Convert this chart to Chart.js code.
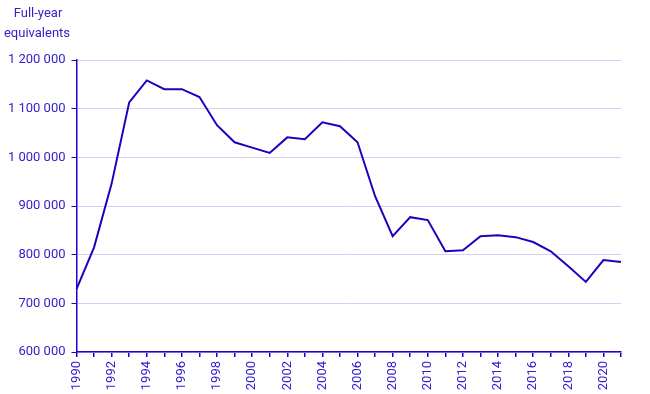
<!DOCTYPE html>
<html>
<head>
<meta charset="utf-8">
<script src="https://cdn.jsdelivr.net/npm/chart.js@4/dist/chart.umd.min.js"></script>
<style>
html,body{margin:0;padding:0;background:#fff;}
#wrap{width:650px;height:394px;position:relative;}
</style>
</head>
<body>
<div id="wrap"><canvas id="c" width="650" height="394"></canvas></div>
<script>
const years = [1990,1991,1992,1993,1994,1995,1996,1997,1998,1999,2000,2001,2002,2003,2004,2005,2006,2007,2008,2009,2010,2011,2012,2013,2014,2015,2016,2017,2018,2019,2020,2021];
const fullYearEquivalents = [729000,815000,946000,1113000,1158000,1140000,1140000,1124000,1066000,1031000,1020000,1009000,1041000,1037000,1072000,1064000,1031000,920000,838000,877000,871000,807000,809000,838000,840000,836000,826000,807000,776000,744000,789000,785000];
const yAxisTitle = ["Full-year", "equivalents"];
const yMin = 600000, yMax = 1200000, yStep = 100000;

const TEXT = '#3322cc';
const AXIS = '#2400cc';
const LINE = '#1e00bf';
const GRID = '#d4d0f4';
const FONT = 'Roboto, "Liberation Sans", Arial, sans-serif';

function fmt(v){ return String(v).replace(/\B(?=(\d{3})+(?!\d))/g, ' '); }

const titlePlugin = {
  id: 'ytitle',
  afterDraw(chart){
    const ctx = chart.ctx;
    ctx.save();
    ctx.fillStyle = TEXT;
    ctx.font = '13px ' + FONT;
    ctx.textAlign = 'center';
    ctx.textBaseline = 'middle';
    ctx.fillText(yAxisTitle[0], 38, 14);
    ctx.fillText(yAxisTitle[1], 37, 34);
    ctx.restore();
  }
};

new Chart(document.getElementById('c'), {
  type: 'line',
  data: {
    labels: years.map(String),
    datasets: [{
      data: fullYearEquivalents,
      borderColor: LINE,
      borderWidth: 2,
      pointRadius: 0,
      tension: 0,
      fill: false
    }]
  },
  options: {
    responsive: false,
    animation: false,
    devicePixelRatio: 1,
    layout: { padding: { top: 60, right: 29, bottom: 0, left: 0 } },
    plugins: { legend: { display: false }, tooltip: { enabled: false }, title: { display: false } },
    scales: {
      x: {
        type: 'category',
        offset: false,
        border: { color: AXIS, width: 1.5 },
        grid: { drawOnChartArea: false, tickColor: AXIS, tickLength: 5, lineWidth: 1.5 },
        ticks: {
          autoSkip: false, maxRotation: 90, minRotation: 90,
          color: TEXT, font: { family: FONT, size: 13 }, padding: 4,
          callback: function(v, i){ const y = years[i]; return y % 2 === 0 ? String(y) : ''; }
        },
        afterFit(scale){ scale.height = 42; }
      },
      y: {
        min: yMin, max: yMax,
        border: { color: AXIS, width: 1.5 },
        grid: { color: GRID, tickColor: AXIS, tickLength: 5, lineWidth: 1 },
        ticks: {
          stepSize: yStep, color: TEXT, font: { family: FONT, size: 13 }, padding: 6,
          callback: v => fmt(v)
        },
        afterFit(scale){ scale.width = 76.5; }
      }
    }
  },
  plugins: [titlePlugin]
});
</script>
</body>
</html>
